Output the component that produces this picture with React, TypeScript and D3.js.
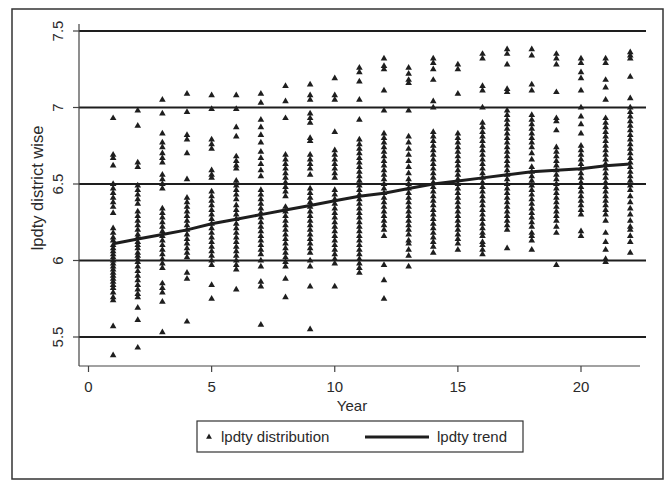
import React, { useRef, useEffect } from 'react';
import * as d3 from 'd3';

// years on the x axis
const years = [1, 2, 3, 4, 5, 6, 7, 8, 9, 10, 11, 12, 13, 14, 15, 16, 17, 18, 19, 20, 21, 22];

// lpdty values per year
const yr1 = [6.93, 6.69, 6.67, 6.62, 6.50, 6.47, 6.44, 6.41, 6.38, 6.35, 6.31, 6.21, 6.18, 6.15, 6.13, 6.10, 6.08, 6.06, 6.04, 6.02, 6.00, 5.98, 5.96, 5.94, 5.92, 5.90, 5.88, 5.86, 5.84, 5.82, 5.79, 5.76, 5.74, 5.57, 5.38];
const yr2 = [6.98, 6.88, 6.64, 6.61, 6.49, 6.46, 6.43, 6.40, 6.37, 6.32, 6.29, 6.26, 6.23, 6.20, 6.17, 6.15, 6.12, 6.10, 6.08, 6.05, 6.03, 6.01, 5.99, 5.96, 5.93, 5.90, 5.87, 5.84, 5.81, 5.78, 5.76, 5.69, 5.61, 5.43];
const yr3 = [7.05, 6.96, 6.83, 6.77, 6.74, 6.70, 6.67, 6.64, 6.56, 6.53, 6.50, 6.47, 6.34, 6.31, 6.28, 6.25, 6.22, 6.19, 6.16, 6.13, 6.10, 6.07, 6.04, 6.01, 5.98, 5.95, 5.85, 5.82, 5.79, 5.73, 5.53];
const yr4 = [7.09, 6.97, 6.82, 6.79, 6.70, 6.53, 6.41, 6.38, 6.35, 6.32, 6.29, 6.26, 6.23, 6.20, 6.17, 6.14, 6.11, 6.08, 6.05, 6.02, 5.92, 5.88, 5.60];
const yr5 = [7.08, 6.99, 6.79, 6.76, 6.73, 6.59, 6.56, 6.54, 6.45, 6.42, 6.39, 6.36, 6.33, 6.30, 6.27, 6.24, 6.21, 6.18, 6.15, 6.12, 6.09, 6.06, 6.03, 6.00, 5.97, 5.84, 5.75];
const yr6 = [7.08, 6.99, 6.87, 6.81, 6.68, 6.65, 6.62, 6.60, 6.52, 6.49, 6.46, 6.43, 6.40, 6.36, 6.33, 6.30, 6.27, 6.24, 6.21, 6.18, 6.15, 6.12, 6.09, 6.06, 6.03, 6.00, 5.97, 5.94, 5.81];
const yr7 = [7.09, 7.03, 6.92, 6.87, 6.82, 6.77, 6.71, 6.67, 6.63, 6.59, 6.55, 6.46, 6.43, 6.40, 6.37, 6.34, 6.31, 6.28, 6.25, 6.22, 6.19, 6.16, 6.13, 6.10, 6.07, 6.04, 6.00, 5.96, 5.86, 5.83, 5.58];
const yr8 = [7.14, 7.04, 6.93, 6.69, 6.66, 6.63, 6.60, 6.57, 6.54, 6.51, 6.48, 6.45, 6.42, 6.35, 6.32, 6.29, 6.26, 6.23, 6.20, 6.17, 6.14, 6.11, 6.08, 6.05, 6.02, 5.99, 5.96, 5.88, 5.76];
const yr9 = [7.15, 7.08, 7.05, 6.96, 6.93, 6.90, 6.80, 6.78, 6.69, 6.66, 6.63, 6.60, 6.56, 6.47, 6.44, 6.41, 6.38, 6.35, 6.32, 6.29, 6.26, 6.23, 6.20, 6.17, 6.14, 6.11, 6.08, 6.05, 6.00, 5.96, 5.83, 5.55];
const yr10 = [7.19, 7.08, 7.05, 6.84, 6.72, 6.69, 6.66, 6.63, 6.60, 6.57, 6.54, 6.46, 6.43, 6.40, 6.37, 6.34, 6.31, 6.28, 6.25, 6.22, 6.19, 6.16, 6.13, 6.10, 6.07, 6.04, 6.01, 5.98, 5.83];
const yr11 = [7.26, 7.23, 7.17, 7.05, 6.92, 6.79, 6.76, 6.73, 6.70, 6.67, 6.64, 6.61, 6.58, 6.55, 6.52, 6.49, 6.46, 6.43, 6.40, 6.37, 6.34, 6.31, 6.28, 6.25, 6.22, 6.19, 6.16, 6.13, 6.10, 6.07, 6.04, 6.01, 5.98, 5.95, 5.92];
const yr12 = [7.32, 7.27, 7.25, 7.11, 6.98, 6.83, 6.80, 6.77, 6.74, 6.71, 6.68, 6.65, 6.62, 6.59, 6.56, 6.53, 6.50, 6.47, 6.44, 6.41, 6.38, 6.35, 6.32, 6.29, 6.26, 6.23, 6.20, 6.16, 5.97, 5.87, 5.75];
const yr13 = [7.26, 7.22, 7.18, 7.16, 6.98, 6.81, 6.77, 6.73, 6.69, 6.65, 6.61, 6.57, 6.53, 6.50, 6.47, 6.44, 6.41, 6.38, 6.35, 6.32, 6.29, 6.26, 6.23, 6.20, 6.17, 6.13, 6.11, 6.07, 6.03, 5.96];
const yr14 = [7.32, 7.29, 7.25, 7.18, 7.04, 7.00, 6.84, 6.81, 6.78, 6.75, 6.72, 6.69, 6.66, 6.63, 6.60, 6.57, 6.54, 6.51, 6.48, 6.45, 6.42, 6.39, 6.36, 6.33, 6.30, 6.27, 6.24, 6.21, 6.18, 6.15, 6.12, 6.09, 6.05];
const yr15 = [7.28, 7.25, 7.09, 6.83, 6.80, 6.77, 6.74, 6.71, 6.68, 6.65, 6.62, 6.59, 6.56, 6.53, 6.50, 6.47, 6.44, 6.41, 6.38, 6.35, 6.32, 6.29, 6.26, 6.23, 6.20, 6.17, 6.14, 6.11, 6.07];
const yr16 = [7.35, 7.32, 7.14, 7.11, 7.00, 6.90, 6.87, 6.84, 6.81, 6.78, 6.75, 6.72, 6.69, 6.66, 6.63, 6.60, 6.57, 6.54, 6.51, 6.48, 6.45, 6.42, 6.39, 6.36, 6.33, 6.30, 6.27, 6.24, 6.21, 6.18, 6.16, 6.12, 6.10, 6.07, 6.04];
const yr17 = [7.38, 7.35, 7.28, 7.12, 7.10, 6.98, 6.95, 6.92, 6.89, 6.86, 6.83, 6.80, 6.77, 6.74, 6.71, 6.68, 6.65, 6.62, 6.59, 6.56, 6.53, 6.50, 6.47, 6.44, 6.41, 6.38, 6.35, 6.32, 6.29, 6.26, 6.23, 6.20, 6.08];
const yr18 = [7.38, 7.34, 7.15, 7.11, 6.95, 6.92, 6.89, 6.86, 6.83, 6.80, 6.77, 6.74, 6.70, 6.66, 6.61, 6.58, 6.55, 6.52, 6.49, 6.46, 6.43, 6.40, 6.37, 6.34, 6.31, 6.28, 6.25, 6.22, 6.18, 6.16, 6.13, 6.07];
const yr19 = [7.35, 7.32, 7.28, 7.10, 6.93, 6.91, 6.85, 6.74, 6.71, 6.68, 6.65, 6.62, 6.59, 6.56, 6.53, 6.50, 6.47, 6.44, 6.41, 6.38, 6.35, 6.32, 6.29, 6.26, 6.22, 6.18, 5.97];
const yr20 = [7.32, 7.29, 7.23, 7.19, 7.11, 7.00, 6.94, 6.89, 6.83, 6.75, 6.72, 6.69, 6.66, 6.63, 6.60, 6.57, 6.54, 6.51, 6.48, 6.45, 6.42, 6.39, 6.36, 6.33, 6.30, 6.19, 6.16];
const yr21 = [7.32, 7.29, 7.18, 7.13, 7.05, 6.93, 6.90, 6.87, 6.84, 6.81, 6.78, 6.75, 6.72, 6.69, 6.66, 6.63, 6.60, 6.57, 6.54, 6.51, 6.48, 6.45, 6.42, 6.39, 6.36, 6.33, 6.30, 6.26, 6.18, 6.12, 6.07, 6.01, 5.99];
const yr22 = [7.36, 7.34, 7.32, 7.20, 7.06, 7.00, 6.97, 6.94, 6.91, 6.88, 6.85, 6.82, 6.79, 6.76, 6.73, 6.70, 6.67, 6.64, 6.61, 6.58, 6.55, 6.52, 6.49, 6.46, 6.42, 6.38, 6.34, 6.30, 6.26, 6.22, 6.20, 6.16, 6.12, 6.05];

const distribution = [yr1, yr2, yr3, yr4, yr5, yr6, yr7, yr8, yr9, yr10, yr11, yr12, yr13, yr14, yr15, yr16, yr17, yr18, yr19, yr20, yr21, yr22];

// fitted trend, one value per year
const trendValues = [6.11, 6.14, 6.17, 6.20, 6.24, 6.27, 6.30, 6.33, 6.36, 6.39, 6.42, 6.44, 6.47, 6.50, 6.52, 6.54, 6.56, 6.58, 6.59, 6.60, 6.62, 6.63];

const xTicks = [0, 5, 10, 15, 20];
const yTicks = [5.5, 6, 6.5, 7, 7.5];

const INK = '#1e1e1e';
const FONT = '"Liberation Sans", Arial, sans-serif';

export default function App() {
  const svgRef = useRef<SVGSVGElement>(null);

  useEffect(() => {
    const svg = d3.select(svgRef.current);
    svg.selectAll('*').remove();

    const width = 666;
    const height = 481;
    svg.attr('width', width).attr('height', height);

    svg.append('rect').attr('width', width).attr('height', height).attr('fill', '#fff');

    // outer frame
    svg.append('rect')
      .attr('x', 12).attr('y', 9)
      .attr('width', 651).attr('height', 470)
      .attr('fill', 'none')
      .attr('stroke', '#333')
      .attr('stroke-width', 1.5);

    const plotLeft = 79;
    const plotRight = 640;
    const plotTop = 24;
    const plotBottom = 366;

    const xScale = d3.scaleLinear().domain([0, 20]).range([88.5, 581]);
    const yScale = d3.scaleLinear().domain([5.5, 7.5]).range([337, 31]);

    // gridlines
    yTicks.forEach(t => {
      svg.append('line')
        .attr('x1', plotLeft).attr('x2', 646)
        .attr('y1', yScale(t)).attr('y2', yScale(t))
        .attr('stroke', INK)
        .attr('stroke-width', 2.2);
    });

    // axes
    svg.append('line')
      .attr('x1', plotLeft).attr('x2', plotLeft)
      .attr('y1', plotTop).attr('y2', plotBottom)
      .attr('stroke', '#444').attr('stroke-width', 1.2);
    svg.append('line')
      .attr('x1', plotLeft).attr('x2', plotRight)
      .attr('y1', plotBottom).attr('y2', plotBottom)
      .attr('stroke', '#444').attr('stroke-width', 1.2);

    yTicks.forEach(t => {
      svg.append('line')
        .attr('x1', plotLeft - 6).attr('x2', plotLeft)
        .attr('y1', yScale(t)).attr('y2', yScale(t))
        .attr('stroke', '#444').attr('stroke-width', 1.2);
      svg.append('text')
        .attr('transform', `translate(63, ${yScale(t)}) rotate(-90)`)
        .attr('text-anchor', 'middle')
        .attr('font-family', FONT)
        .attr('font-size', '15px')
        .attr('fill', '#2a2a2a')
        .text(String(t));
    });

    xTicks.forEach(t => {
      svg.append('line')
        .attr('x1', xScale(t)).attr('x2', xScale(t))
        .attr('y1', plotBottom).attr('y2', plotBottom + 6)
        .attr('stroke', '#444').attr('stroke-width', 1.2);
      svg.append('text')
        .attr('x', xScale(t)).attr('y', plotBottom + 26)
        .attr('text-anchor', 'middle')
        .attr('font-family', FONT)
        .attr('font-size', '15px')
        .attr('fill', '#2a2a2a')
        .text(String(t));
    });

    // axis titles
    svg.append('text')
      .attr('transform', `translate(43, 188) rotate(-90)`)
      .attr('text-anchor', 'middle')
      .attr('font-family', FONT)
      .attr('font-size', '16.5px')
      .attr('fill', '#2a2a2a')
      .text('lpdty district wise');
    svg.append('text')
      .attr('x', 352).attr('y', 411)
      .attr('text-anchor', 'middle')
      .attr('font-family', FONT)
      .attr('font-size', '15px')
      .attr('fill', '#2a2a2a')
      .text('Year');

    // scatter of triangles
    const tri = d3.symbol().type(d3.symbolTriangle).size(19);
    const pts = svg.append('g').attr('fill', INK);
    distribution.forEach((vals, i) => {
      vals.forEach(v => {
        pts.append('path')
          .attr('d', tri() as string)
          .attr('transform', `translate(${xScale(years[i])}, ${yScale(v)})`);
      });
    });

    // trend line
    const line = d3.line<number>()
      .x((d, i) => xScale(years[i]))
      .y(d => yScale(d));
    svg.append('path')
      .datum(trendValues)
      .attr('d', line)
      .attr('fill', 'none')
      .attr('stroke', INK)
      .attr('stroke-width', 3);

    // legend
    const lg = svg.append('g');
    lg.append('rect')
      .attr('x', 197).attr('y', 421)
      .attr('width', 326).attr('height', 31)
      .attr('fill', '#fff')
      .attr('stroke', '#333')
      .attr('stroke-width', 1.2);
    lg.append('path')
      .attr('d', d3.symbol().type(d3.symbolTriangle).size(15)() as string)
      .attr('transform', 'translate(209, 437)')
      .attr('fill', INK);
    lg.append('text')
      .attr('x', 221).attr('y', 442)
      .attr('font-family', FONT)
      .attr('font-size', '15px')
      .attr('fill', '#2a2a2a')
      .text('lpdty distribution');
    lg.append('line')
      .attr('x1', 365).attr('x2', 429)
      .attr('y1', 437).attr('y2', 437)
      .attr('stroke', INK)
      .attr('stroke-width', 3);
    lg.append('text')
      .attr('x', 437).attr('y', 442)
      .attr('font-family', FONT)
      .attr('font-size', '15px')
      .attr('fill', '#2a2a2a')
      .text('lpdty trend');
  }, []);

  return (
    <svg ref={svgRef} style={{ position: 'absolute', left: 0, top: 0, display: 'block' }} />
  );
}
